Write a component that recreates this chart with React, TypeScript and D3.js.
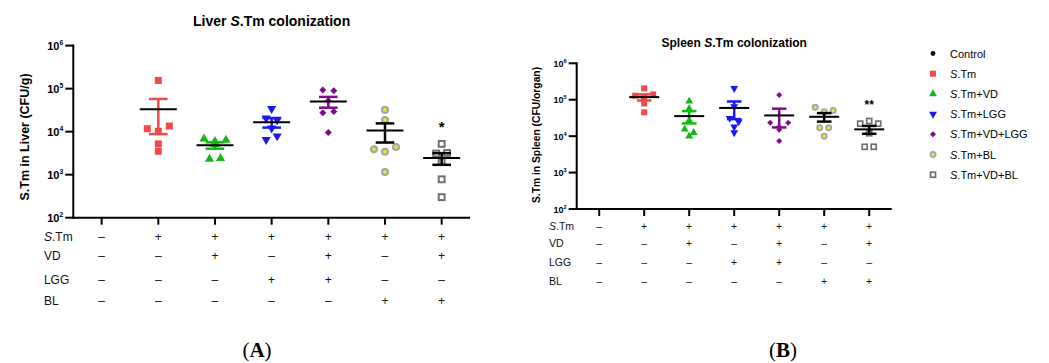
import React from 'react';
import * as d3 from 'd3';

// groups, same order in both panels
const groups = ['Control', 'S.Tm', 'S.Tm+VD', 'S.Tm+LGG', 'S.Tm+VD+LGG', 'S.Tm+BL', 'S.Tm+VD+BL'];
const groupColors = ['#000000', '#f24a4a', '#14b814', '#1a1af0', '#800a8c', '#a6a6a6', '#6e6e6e'];
const barColors = ['#000000', '#f24a4a', '#14b814', '#1a1af0', '#800a8c', '#000000', '#000000'];

// CFU values (log axis)
const liverValues = [
  [],
  [155000, 11700, 10200, 13500, 5200, 3500],
  [5100, 6800, 6000, 6400, 2300, 2400],
  [34000, 20500, 18600, 12000, 6500, 7900],
  [93000, 89000, 52000, 27500, 29500, 9500],
  [32000, 18600, 3900, 3400, 4400, 1150],
  [5200, 3100, 3200, 2000, 780, 300],
];
const spleenValues = [
  [],
  [205000, 129000, 110000, 140000, 79000, 45000],
  [91000, 57000, 27000, 15500, 12500, 10000],
  [205000, 65000, 31000, 25000, 18000, 12500],
  [135000, 23500, 18000, 23500, 15000, 7400],
  [62000, 47000, 51000, 17000, 17000, 10000],
  [22000, 26000, 22000, 12000, 5100, 5100],
];
const liverStars = ['', '', '', '', '', '', '*'];
const spleenStars = ['', '', '', '', '', '', '**'];

const yTickValues = [1e2, 1e3, 1e4, 1e5, 1e6];

// treatment table
const rowLabels = ['S.Tm', 'VD', 'LGG', 'BL'];
const stmRow = ['–', '+', '+', '+', '+', '+', '+'];
const vdRow = ['–', '–', '+', '–', '+', '–', '+'];
const lggRow = ['–', '–', '–', '+', '+', '–', '–'];
const blRow = ['–', '–', '–', '–', '–', '+', '+'];
const tableRows = [stmRow, vdRow, lggRow, blRow];

const FONT = '"Liberation Sans", Arial, Helvetica, sans-serif';

function Marker({ g, x, y, s }: { g: number; x: number; y: number; s: number }) {
  const col = groupColors[g];
  if (g === 0) return <circle cx={x} cy={y} r={s * 0.4} fill={col} />;
  if (g === 1) {
    return <path transform={`translate(${x},${y})`} d={d3.symbol(d3.symbolSquare, s * s)()!} fill={col} />;
  }
  if (g === 2 || g === 3) {
    const p = d3.symbol(d3.symbolTriangle, s * s * 0.75)()!;
    return <path transform={`translate(${x},${y}) rotate(${g === 3 ? 180 : 0})`} d={p} fill={col} />;
  }
  if (g === 4) {
    return <path transform={`translate(${x},${y}) rotate(45)`} d={d3.symbol(d3.symbolSquare, s * s * 0.5)()!} fill={col} />;
  }
  if (g === 5) {
    return <circle cx={x} cy={y} r={s * 0.42} fill="#f4ec1c" stroke={col} strokeWidth={s * 0.32} />;
  }
  return (
    <rect x={x - s * 0.42} y={y - s * 0.42} width={s * 0.84} height={s * 0.84}
      fill="#fff" stroke={col} strokeWidth={s * 0.28} />
  );
}

// GraphPad-like scatter: points at similar height share a row, spread symmetrically
function layoutPoints(vals: number[], y: (v: number) => number, size: number, step: number) {
  const pts = vals.map((v, i) => ({ v, i, py: y(v), dx: 0 }));
  const sorted = [...pts].sort((a, b) => a.py - b.py);
  const rows: typeof pts[] = [];
  sorted.forEach((p) => {
    const last = rows[rows.length - 1];
    if (last && p.py - last[0].py <= size * 0.75) last.push(p);
    else rows.push([p]);
  });
  rows.forEach((row) => {
    row.sort((a, b) => a.i - b.i);
    row.forEach((p, k) => (p.dx = (k - (row.length - 1) / 2) * step));
  });
  return pts;
}

type PanelProps = {
  values: number[][];
  stars: string[];
  x0: number; x1: number; yTop: number; yBot: number;
  title: string; titleY: number; titleSize: number;
  yLabel: string; yLabelX: number; yLabelY: number; yLabelSize: number;
  tickSize: number;
  size: number; step: number; meanHalf: number; capHalf: number;
  starSize: number;
  tableX: number; tableYs: number[]; tableSize: number;
};

function Panel(p: PanelProps) {
  const x = d3.scalePoint<number>().domain(d3.range(groups.length)).range([p.x0, p.x1]).padding(0.5);
  const y = d3.scaleLog().domain([1e2, 1e6]).range([p.yBot, p.yTop]);
  const cx = (p.x0 + p.x1) / 2;
  const [pre, post] = p.title.split('S.Tm');
  return (
    <g fontFamily={FONT}>
      <text x={cx} y={p.titleY} textAnchor="middle" fontWeight="bold" fontSize={p.titleSize}>
        {pre}<tspan fontStyle="italic">S</tspan>.Tm{post}
      </text>
      <text transform={`translate(${p.yLabelX},${p.yLabelY}) rotate(-90)`} textAnchor="middle"
        fontWeight="bold" fontSize={p.yLabelSize}>{p.yLabel}</text>
      {/* axes */}
      <line x1={p.x0} x2={p.x0} y1={p.yTop - 1} y2={p.yBot + 1} stroke="#000" strokeWidth={2} />
      <line x1={p.x0 - 1} x2={p.x1} y1={p.yBot} y2={p.yBot} stroke="#000" strokeWidth={2} />
      {yTickValues.map((t) => (
        <g key={t}>
          <line x1={p.x0 - 8} x2={p.x0} y1={y(t)} y2={y(t)} stroke="#000" strokeWidth={2} />
          <text x={p.x0 - 10} y={y(t) + p.tickSize * 0.4} textAnchor="end" fontWeight="bold" fontSize={p.tickSize}>
            10<tspan dy={-p.tickSize * 0.45} fontSize={p.tickSize * 0.62}>{Math.round(Math.log10(t))}</tspan>
          </text>
        </g>
      ))}
      {groups.map((_, g) => (
        <line key={g} x1={x(g)} x2={x(g)} y1={p.yBot} y2={p.yBot + 7} stroke="#000" strokeWidth={2} />
      ))}
      {/* scatter + mean ± SEM */}
      {p.values.map((vals, g) => {
        if (!vals.length) return null;
        const gx = x(g)!;
        const m = d3.mean(vals)!;
        const sem = d3.deviation(vals)! / Math.sqrt(vals.length);
        const pts = layoutPoints(vals, y, p.size, p.step);
        const bc = barColors[g];
        return (
          <g key={g}>
            {pts.map((pt) => <Marker key={pt.i} g={g} x={gx + pt.dx} y={pt.py} s={p.size} />)}
            <line x1={gx} x2={gx} y1={y(m + sem)} y2={y(Math.max(m - sem, 101))} stroke={bc} strokeWidth={2.5} />
            <line x1={gx - p.capHalf} x2={gx + p.capHalf} y1={y(m + sem)} y2={y(m + sem)} stroke={bc} strokeWidth={2.5} />
            <line x1={gx - p.capHalf} x2={gx + p.capHalf} y1={y(m - sem)} y2={y(m - sem)} stroke={bc} strokeWidth={2.5} />
            <line x1={gx - p.meanHalf} x2={gx + p.meanHalf} y1={y(m)} y2={y(m)} stroke="#000" strokeWidth={2} />
            {p.stars[g] && (
              <text x={gx} y={y(d3.max(vals)!) - 12} textAnchor="middle" fontWeight="bold" fontSize={p.starSize}>
                {p.stars[g]}
              </text>
            )}
          </g>
        );
      })}
      {/* treatment table (tiny rotation keeps text antialiasing grey) */}
      <g transform="rotate(0.01)">
        {tableRows.map((row, r) => (
          <g key={r} fontSize={p.tableSize} fill="#111">
            <text x={p.tableX} y={p.tableYs[r]}>
              {rowLabels[r] === 'S.Tm' ? <><tspan fontStyle="italic">S</tspan>.Tm</> : rowLabels[r]}
            </text>
            {row.map((s, g) => (
              <text key={g} x={x(g)} y={p.tableYs[r]} textAnchor="middle">{s}</text>
            ))}
          </g>
        ))}
      </g>
    </g>
  );
}

function Legend() {
  return (
    <g fontFamily={FONT} fontSize={11}>
      {groups.map((name, g) => {
        const yy = 53.5 + g * 20.2;
        const italic = name.startsWith('S.Tm');
        return (
          <g key={name}>
            <Marker g={g} x={933} y={yy} s={6} />
            <text x={950} y={yy + 4}>
              {italic ? <><tspan fontStyle="italic">S</tspan>{name.slice(1)}</> : name}
            </text>
          </g>
        );
      })}
    </g>
  );
}

export default function App() {
  return (
    <svg width={1049} height={363} style={{ position: 'absolute', left: 0, top: 0, background: '#fff' }}>
      <rect width={1049} height={363} fill="#fff" />
      <Panel
        values={liverValues} stars={liverStars}
        x0={73.3} x1={470} yTop={45.6} yBot={217.7}
        title="Liver S.Tm colonization" titleY={25.5} titleSize={14}
        yLabel="S.Tm in Liver (CFU/g)" yLabelX={29} yLabelY={137} yLabelSize={12.5}
        tickSize={11} size={7} step={11} meanHalf={18.5} capHalf={9.3} starSize={15}
        tableX={44} tableYs={[241, 259.5, 283.5, 304.5]} tableSize={12}
      />
      <Panel
        values={spleenValues} stars={spleenStars}
        x0={576.7} x1={891.7} yTop={63.3} yBot={209}
        title="Spleen S.Tm colonization" titleY={46.5} titleSize={12}
        yLabel="S.Tm in Spleen (CFU/organ)" yLabelX={540} yLabelY={135} yLabelSize={10.3}
        tickSize={9} size={6} step={9} meanHalf={15} capHalf={7.3} starSize={12}
        tableX={549} tableYs={[229.5, 246.5, 266, 284.5]} tableSize={10.5}
      />
      <Legend />
      <g fontFamily='"Liberation Serif", "Times New Roman", serif' fontSize={21}>
        <text x={257} y={357} textAnchor="middle">(<tspan fontWeight="bold">A</tspan>)</text>
        <text x={783} y={357} textAnchor="middle">(<tspan fontWeight="bold">B</tspan>)</text>
      </g>
    </svg>
  );
}
